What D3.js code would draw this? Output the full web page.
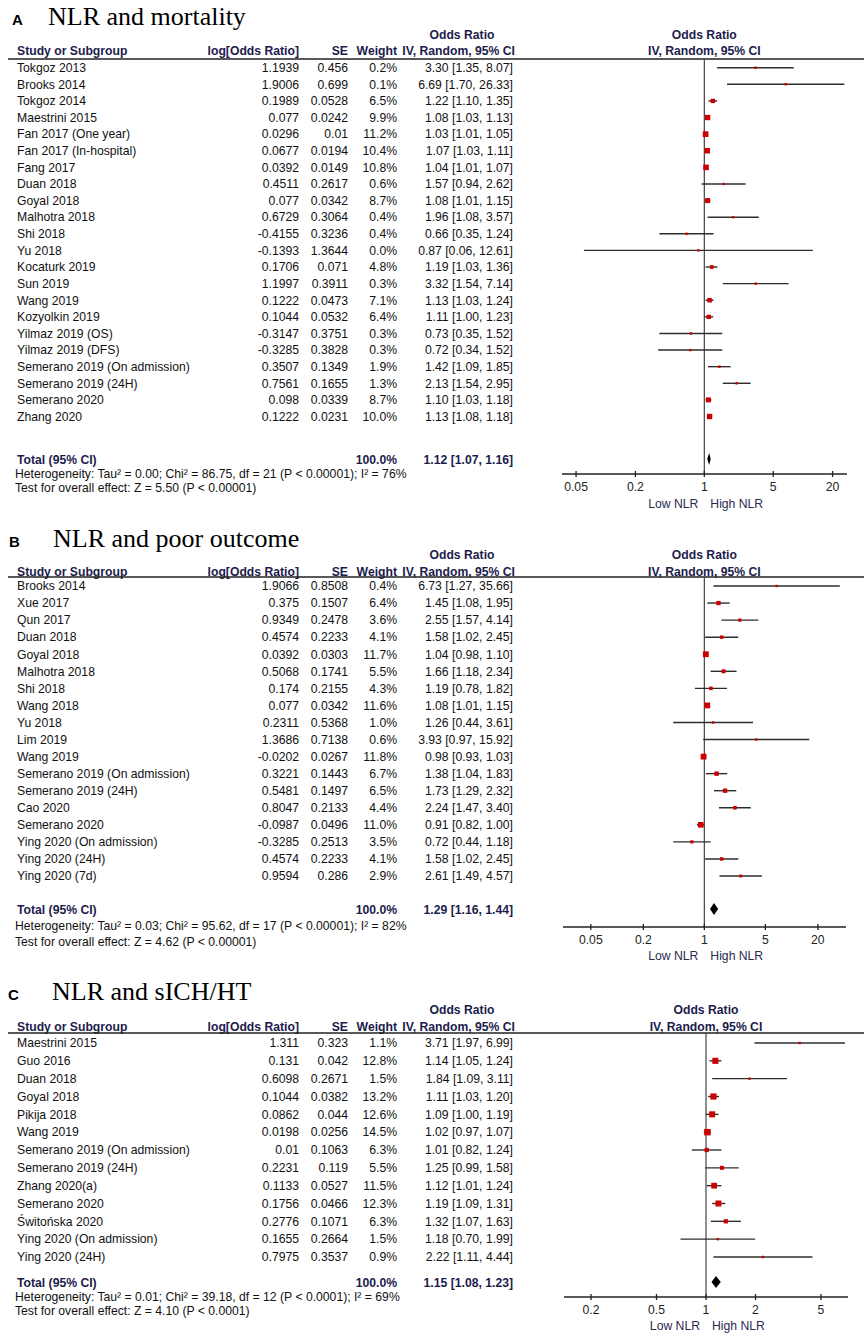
<!DOCTYPE html>
<html>
<head>
<meta charset="utf-8">
<script src="https://cdn.jsdelivr.net/npm/d3@7"></script>
<style>
  html, body { margin: 0; padding: 0; background: #fff; }
  svg { display: block; }
</style>
</head>
<body>
<svg id="chart" width="864" height="1339"></svg>
<script>
// ---------- Panel A: NLR and mortality ----------
const studiesA = ["Tokgoz 2013","Brooks 2014","Tokgoz 2014","Maestrini 2015","Fan 2017 (One year)","Fan 2017 (In-hospital)","Fang 2017","Duan 2018","Goyal 2018","Malhotra 2018","Shi 2018","Yu 2018","Kocaturk 2019","Sun 2019","Wang 2019","Kozyolkin 2019","Yilmaz 2019 (OS)","Yilmaz 2019 (DFS)","Semerano 2019 (On admission)","Semerano 2019 (24H)","Semerano 2020","Zhang 2020"];
const logOrA = [1.1939,1.9006,0.1989,0.077,0.0296,0.0677,0.0392,0.4511,0.077,0.6729,-0.4155,-0.1393,0.1706,1.1997,0.1222,0.1044,-0.3147,-0.3285,0.3507,0.7561,0.098,0.1222];
const seA = [0.456,0.699,0.0528,0.0242,0.01,0.0194,0.0149,0.2617,0.0342,0.3064,0.3236,1.3644,0.071,0.3911,0.0473,0.0532,0.3751,0.3828,0.1349,0.1655,0.0339,0.0231];
const weightA = [0.2,0.1,6.5,9.9,11.2,10.4,10.8,0.6,8.7,0.4,0.4,0.0,4.8,0.3,7.1,6.4,0.3,0.3,1.9,1.3,8.7,10.0];
const orA = [3.30,6.69,1.22,1.08,1.03,1.07,1.04,1.57,1.08,1.96,0.66,0.87,1.19,3.32,1.13,1.11,0.73,0.72,1.42,2.13,1.10,1.13];
const loA = [1.35,1.70,1.10,1.03,1.01,1.03,1.01,0.94,1.01,1.08,0.35,0.06,1.03,1.54,1.03,1.00,0.35,0.34,1.09,1.54,1.03,1.08];
const hiA = [8.07,26.33,1.35,1.13,1.05,1.11,1.07,2.62,1.15,3.57,1.24,12.61,1.36,7.14,1.24,1.23,1.52,1.52,1.85,2.95,1.18,1.18];
const totalA = [1.12, 1.07, 1.16];
const hetA = "Heterogeneity: Tau² = 0.00; Chi² = 86.75, df = 21 (P < 0.00001); I² = 76%";
const testA = "Test for overall effect: Z = 5.50 (P < 0.00001)";
const ticksA = [0.05, 0.2, 1, 5, 20];

// ---------- Panel B: NLR and poor outcome ----------
const studiesB = ["Brooks 2014","Xue 2017","Qun 2017","Duan 2018","Goyal 2018","Malhotra 2018","Shi 2018","Wang 2018","Yu 2018","Lim 2019","Wang 2019","Semerano 2019 (On admission)","Semerano 2019 (24H)","Cao 2020","Semerano 2020","Ying 2020 (On admission)","Ying 2020 (24H)","Ying 2020 (7d)"];
const logOrB = [1.9066,0.375,0.9349,0.4574,0.0392,0.5068,0.174,0.077,0.2311,1.3686,-0.0202,0.3221,0.5481,0.8047,-0.0987,-0.3285,0.4574,0.9594];
const seB = [0.8508,0.1507,0.2478,0.2233,0.0303,0.1741,0.2155,0.0342,0.5368,0.7138,0.0267,0.1443,0.1497,0.2133,0.0496,0.2513,0.2233,0.286];
const weightB = [0.4,6.4,3.6,4.1,11.7,5.5,4.3,11.6,1.0,0.6,11.8,6.7,6.5,4.4,11.0,3.5,4.1,2.9];
const orB = [6.73,1.45,2.55,1.58,1.04,1.66,1.19,1.08,1.26,3.93,0.98,1.38,1.73,2.24,0.91,0.72,1.58,2.61];
const loB = [1.27,1.08,1.57,1.02,0.98,1.18,0.78,1.01,0.44,0.97,0.93,1.04,1.29,1.47,0.82,0.44,1.02,1.49];
const hiB = [35.66,1.95,4.14,2.45,1.10,2.34,1.82,1.15,3.61,15.92,1.03,1.83,2.32,3.40,1.00,1.18,2.45,4.57];
const totalB = [1.29, 1.16, 1.44];
const hetB = "Heterogeneity: Tau² = 0.03; Chi² = 95.62, df = 17 (P < 0.00001); I² = 82%";
const testB = "Test for overall effect: Z = 4.62 (P < 0.00001)";
const ticksB = [0.05, 0.2, 1, 5, 20];

// ---------- Panel C: NLR and sICH/HT ----------
const studiesC = ["Maestrini 2015","Guo 2016","Duan 2018","Goyal 2018","Pikija 2018","Wang 2019","Semerano 2019 (On admission)","Semerano 2019 (24H)","Zhang 2020(a)","Semerano 2020","Świtońska 2020","Ying 2020 (On admission)","Ying 2020 (24H)"];
const logOrC = [1.311,0.131,0.6098,0.1044,0.0862,0.0198,0.01,0.2231,0.1133,0.1756,0.2776,0.1655,0.7975];
const seC = [0.323,0.042,0.2671,0.0382,0.044,0.0256,0.1063,0.119,0.0527,0.0466,0.1071,0.2664,0.3537];
const weightC = [1.1,12.8,1.5,13.2,12.6,14.5,6.3,5.5,11.5,12.3,6.3,1.5,0.9];
const orC = [3.71,1.14,1.84,1.11,1.09,1.02,1.01,1.25,1.12,1.19,1.32,1.18,2.22];
const loC = [1.97,1.05,1.09,1.03,1.00,0.97,0.82,0.99,1.01,1.09,1.07,0.70,1.11];
const hiC = [6.99,1.24,3.11,1.20,1.19,1.07,1.24,1.58,1.24,1.31,1.63,1.99,4.44];
const totalC = [1.15, 1.08, 1.23];
const hetC = "Heterogeneity: Tau² = 0.01; Chi² = 39.18, df = 12 (P < 0.0001); I² = 69%";
const testC = "Test for overall effect: Z = 4.10 (P < 0.0001)";
const ticksC = [0.2, 0.5, 1, 2, 5];

// ---------- layout ----------
const panels = [
  { letter: "A", letterX: 12, title: "NLR and mortality", titleX: 48, titleY: 25,
    studies: studiesA, logOr: logOrA, se: seA, weight: weightA, or: orA, lo: loA, hi: hiA,
    total: totalA, het: hetA, test: testA, ticks: ticksA,
    domain: [0.036, 28], range: [562, 847],
    orHeadY: 35, headY: 51, lineY: 59, firstY: 67.7, lastY: 416.5,
    totalY: 460, hetY: 474, testY: 488, axisY: 474, tickLabY: 487, lowHighY: 504 },
  { letter: "B", letterX: 9, title: "NLR and poor outcome", titleX: 53, titleY: 547,
    studies: studiesB, logOr: logOrB, se: seB, weight: weightB, or: orB, lo: loB, hi: hiB,
    total: totalB, het: hetB, test: testB, ticks: ticksB,
    domain: [0.024, 42], range: [563, 846],
    orHeadY: 555, headY: 572, lineY: 577, firstY: 586, lastY: 876,
    totalY: 910, hetY: 926, testY: 942, axisY: 927, tickLabY: 940, lowHighY: 956 },
  { letter: "C", letterX: 8, title: "NLR and sICH/HT", titleX: 52, titleY: 1000,
    studies: studiesC, logOr: logOrC, se: seC, weight: weightC, or: orC, lo: loC, hi: hiC,
    total: totalC, het: hetC, test: testC, ticks: ticksC,
    domain: [0.137, 7.3], range: [564, 848],
    orHeadY: 1010, headY: 1027, lineY: 1033, firstY: 1043, lastY: 1257,
    totalY: 1283, hetY: 1297, testY: 1311, axisY: 1297, tickLabY: 1310, lowHighY: 1326 }
];

const svg = d3.select("#chart");
const FONT = "'Liberation Sans', Arial, sans-serif";
const HEAD = "#1c1c4c";
const TXT = "#111";
const col = { study: 17, logOr: 299, se: 348, weight: 397, ci: 513 };
const fmt2 = d3.format(".2f");
const ciText = (o, l, h) => `${fmt2(o)} [${fmt2(l)}, ${fmt2(h)}]`;

panels.forEach(p => {
  const g = svg.append("g");
  const x = d3.scaleLog().domain(p.domain).range(p.range);
  const n = p.studies.length;
  const y = d3.scaleLinear().domain([0, n - 1]).range([p.firstY, p.lastY]);
  const x1 = x(1);

  const text = (tx, ty, s, opts = {}) => g.append("text")
    .attr("x", tx).attr("y", ty).attr("dy", "0.35em")
    .attr("font-family", FONT).attr("font-size", opts.size || 12.2)
    .attr("font-weight", opts.bold ? "bold" : "normal")
    .attr("text-anchor", opts.anchor || "start")
    .attr("fill", opts.color || TXT).text(s);

  // title
  g.append("text").attr("x", p.letterX).attr("y", p.titleY).attr("font-family", FONT)
    .attr("font-size", 15).attr("font-weight", "bold").attr("fill", "#000").text(p.letter);
  g.append("text").attr("x", p.titleX).attr("y", p.titleY)
    .attr("font-family", "'Liberation Serif', 'Times New Roman', serif")
    .attr("font-size", 26).attr("fill", "#000").text(p.title);

  // headers
  text(462, p.orHeadY, "Odds Ratio", { bold: true, anchor: "middle", color: HEAD });
  text(x1, p.orHeadY, "Odds Ratio", { bold: true, anchor: "middle", color: HEAD });
  text(col.study, p.headY, "Study or Subgroup", { bold: true, color: HEAD });
  text(col.logOr, p.headY, "log[Odds Ratio]", { bold: true, anchor: "end", color: HEAD });
  text(col.se, p.headY, "SE", { bold: true, anchor: "end", color: HEAD });
  text(col.weight, p.headY, "Weight", { bold: true, anchor: "end", color: HEAD });
  text(515, p.headY, "IV, Random, 95% CI", { bold: true, anchor: "end", color: HEAD });
  text(x1, p.headY, "IV, Random, 95% CI", { bold: true, anchor: "middle", color: HEAD });

  g.append("line").attr("x1", 8).attr("x2", 864).attr("y1", p.lineY).attr("y2", p.lineY)
    .attr("stroke", "#222").attr("stroke-width", 1.3);

  // table rows
  p.studies.forEach((s, i) => {
    const yy = y(i);
    text(col.study, yy, s);
    text(col.logOr, yy, String(p.logOr[i]), { anchor: "end" });
    text(col.se, yy, String(p.se[i]), { anchor: "end" });
    text(col.weight, yy, p.weight[i].toFixed(1) + "%", { anchor: "end" });
    text(col.ci, yy, ciText(p.or[i], p.lo[i], p.hi[i]), { anchor: "end" });
  });

  // total rows
  text(col.study, p.totalY, "Total (95% CI)", { bold: true, color: HEAD });
  text(col.weight, p.totalY, "100.0%", { bold: true, anchor: "end", color: HEAD });
  text(col.ci, p.totalY, ciText(p.total[0], p.total[1], p.total[2]), { bold: true, anchor: "end", color: HEAD });
  text(15, p.hetY, p.het);
  text(15, p.testY, p.test);

  // null line
  g.append("line").attr("x1", x1).attr("x2", x1).attr("y1", p.lineY).attr("y2", p.axisY)
    .attr("stroke", "#444").attr("stroke-width", 1.2);

  // CIs and squares
  p.studies.forEach((s, i) => {
    const yy = y(i);
    g.append("line").attr("x1", x(p.lo[i])).attr("x2", x(p.hi[i]))
      .attr("y1", yy).attr("y2", yy).attr("stroke", "#2e2e2e").attr("stroke-width", 1.4);
    const sz = Math.max(2.4, Math.sqrt(p.weight[i]) * 1.7);
    g.append("rect").attr("x", x(p.or[i]) - sz / 2).attr("y", yy - sz / 2)
      .attr("width", sz).attr("height", sz).attr("fill", "#cc0000");
  });

  // diamond
  const dy = p.totalY - 1, dh = 6;
  g.append("path")
    .attr("d", `M${x(p.total[1])},${dy} L${x(p.total[0])},${dy - dh} L${x(p.total[2])},${dy} L${x(p.total[0])},${dy + dh} Z`)
    .attr("fill", "#000");

  // axis
  const axisG = g.append("g").attr("transform", `translate(0,${p.axisY})`);
  axisG.append("line").attr("x1", p.range[0]).attr("x2", p.range[1])
    .attr("stroke", "#222").attr("stroke-width", 1.3);
  p.ticks.forEach(t => {
    axisG.append("line").attr("x1", x(t)).attr("x2", x(t)).attr("y1", -3).attr("y2", 3)
      .attr("stroke", "#222").attr("stroke-width", 1.3);
  });
  p.ticks.forEach(t => text(x(t), p.tickLabY, String(t), { anchor: "middle", color: "#222" }));
  text(x1 - 6, p.lowHighY, "Low NLR", { anchor: "end", color: "#2a2a50" });
  text(x1 + 6, p.lowHighY, "High NLR", { anchor: "start", color: "#2a2a50" });
});
</script>
</body>
</html>
